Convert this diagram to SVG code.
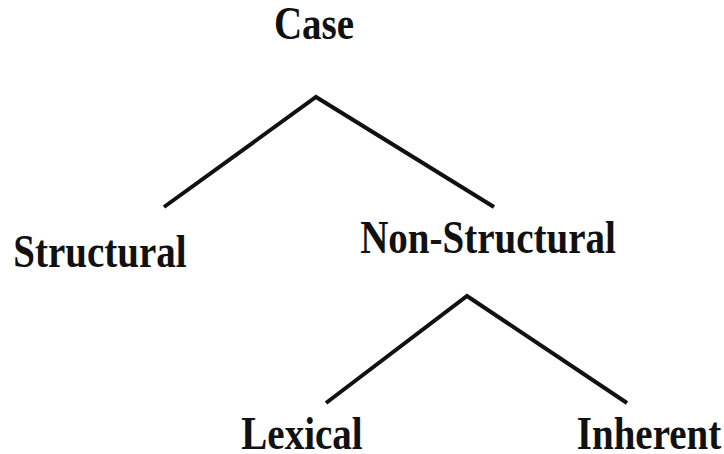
<svg xmlns="http://www.w3.org/2000/svg" width="724" height="454" viewBox="0 0 724 454">
<style>
text{font-family:"Liberation Serif","Times New Roman",serif;font-weight:bold;font-size:39px;fill:#111;text-anchor:middle}
.e{stroke:#111;stroke-width:4;fill:none;stroke-linecap:butt;stroke-linejoin:miter}
</style>
<rect width="724" height="454" fill="#fff"/>
<g id="connectors">
<polyline class="e" points="164,207 316,97 494,207"/>
<polyline class="e" points="326,403 467,296 627,403"/>
</g>
<g id="case"><text transform="translate(314,39) scale(1,1.2)">Case</text></g>
<g id="structural"><text transform="translate(100,267) scale(1,1.2)">Structural</text></g>
<g id="non-structural"><text transform="translate(488,253) scale(1,1.2)">Non-Structural</text></g>
<g id="lexical"><text transform="translate(302,449) scale(1,1.2)">Lexical</text></g>
<g id="inherent"><text transform="translate(649,449) scale(1,1.2)">Inherent</text></g>
</svg>
